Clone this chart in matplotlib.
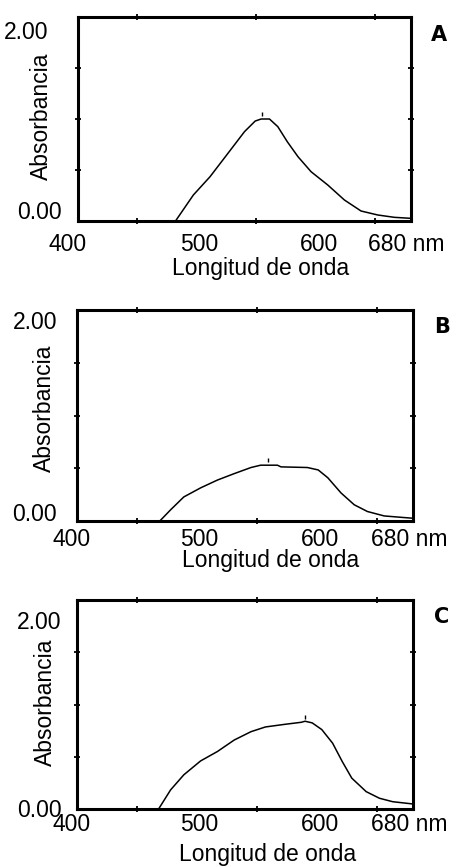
import matplotlib
matplotlib.use("Agg")
import matplotlib.pyplot as plt
import matplotlib.transforms as mtransforms

plt.rcParams['font.family'] = ['Liberation Sans', 'DejaVu Sans']

# ---- data ----
wl_A = [400, 482, 497, 511, 525, 540, 549, 554, 561, 568, 576, 585, 596, 610, 624, 638, 652, 666, 680]
abs_A = [0.0, 0.0, 0.255, 0.434, 0.647, 0.876, 0.98, 1.0, 1.0, 0.925, 0.777, 0.63, 0.483, 0.353,
         0.206, 0.098, 0.059, 0.036, 0.026]

wl_B = [400, 469, 478, 489, 503, 517, 531, 545, 553, 567, 570, 592, 601, 609, 620, 631, 642, 656, 670, 680]
abs_B = [0.0, 0.0, 0.106, 0.228, 0.314, 0.388, 0.449, 0.507, 0.529, 0.529, 0.513, 0.507, 0.484, 0.41,
         0.266, 0.154, 0.09, 0.048, 0.035, 0.026]

wl_C = [400, 468, 478, 489, 503, 517, 531, 545, 557, 573, 587, 590, 596, 604, 613, 621, 629, 641, 652, 663, 680]
abs_C = [0.0, 0.0, 0.183, 0.327, 0.46, 0.55, 0.66, 0.74, 0.785, 0.81, 0.83, 0.84, 0.824, 0.76, 0.63,
         0.455, 0.295, 0.166, 0.103, 0.07, 0.048]

peaks_wl = [555, 559, 590]
peaks_abs = [1.05, 0.575, 0.885]

panel_names = ["A", "B", "C"]
x_ticks = [400, 500, 600, 680]
x_ticklabels = ["400", "500", "600", "680 nm"]
x_minor = [450, 500, 550, 600, 650]
y_ticks = [0.0, 2.0]
y_ticklabels = ["0.00", "2.00"]
y_minor = [0.5, 1.0, 1.5]
xlabel = "Longitud de onda"
ylabel = "Absorbancia"

W, H = 455, 866
fig = plt.figure(figsize=(W / 100, H / 100), dpi=100)

# axes boxes in pixels: left, top, right, bottom
boxes = [(78, 17, 411, 221), (77, 310, 413, 521), (77, 600, 413, 809)]
xpads = [8.4, 4.8, 2.6]
ypads = [11.5, 14.4, 11.0]
ytick_dy = [(11, -13), (9, -10), (1, -20)]   # (0.00, 2.00) vertical pixel offsets
ytick_dx = [(0, -14), (0, 0), (0, 0)]
xtick_dx = [(-10, 2, 3, -5), (-5, 2, 3, -4), (-5, 2, 3, -4)]
xlabel_pos = [(261, 268), (271, 560), (268, 854)]
ylabel_pos = [(41, 116), (44, 408), (45, 702)]
letter_pos = [(439, 35), (442, 327), (442, 617)]

series = [(wl_A, abs_A), (wl_B, abs_B), (wl_C, abs_C)]
fs = 16.5

def offset(dx, dy):
    return mtransforms.ScaledTranslation(dx / 100, dy / 100, fig.dpi_scale_trans)

for i, (l, t, r, b) in enumerate(boxes):
    ax = fig.add_axes([l / W, 1 - b / H, (r - l) / W, (b - t) / H])
    wl, ab = series[i]
    ax.plot(wl, ab, color='black', lw=1.1, solid_joinstyle='round')
    ax.plot([peaks_wl[i]], [peaks_abs[i]], marker='|', color='black', ms=3, mew=1.0)
    ax.set_xlim(400, 680)
    ax.set_ylim(0, 2.0)
    for s in ax.spines.values():
        s.set_linewidth(2.2)
        s.set_zorder(5)
    ax.set_xticks(x_ticks, x_ticklabels)
    ax.set_xticks(x_minor, minor=True)
    ax.set_yticks(y_ticks, y_ticklabels)
    ax.set_yticks(y_minor, minor=True)
    ax.tick_params(which='major', length=0, labelsize=fs)
    ax.tick_params(axis='x', which='major', pad=xpads[i])
    ax.tick_params(axis='y', which='major', pad=ypads[i])
    ax.tick_params(which='minor', direction='inout', length=5, width=1.3,
                   top=True, bottom=True, left=True, right=True)
    fig.canvas.draw()
    for lab, dx in zip(ax.get_xticklabels(), xtick_dx[i]):
        lab.set_transform(lab.get_transform() + offset(dx, 0))
    for lab, dy, dx in zip(ax.get_yticklabels(), ytick_dy[i], ytick_dx[i]):
        lab.set_transform(lab.get_transform() + offset(dx, dy))
    fig.text(xlabel_pos[i][0] / W, 1 - xlabel_pos[i][1] / H, xlabel,
             ha='center', va='center', fontsize=fs)
    fig.text(ylabel_pos[i][0] / W, 1 - ylabel_pos[i][1] / H, ylabel,
             ha='center', va='center', rotation=90, fontsize=fs)
    fig.text(letter_pos[i][0] / W, 1 - letter_pos[i][1] / H, panel_names[i],
             ha='center', va='center', fontsize=15, fontweight='bold',
             family=['DejaVu Sans'])

fig.savefig("out.png", dpi=100)
